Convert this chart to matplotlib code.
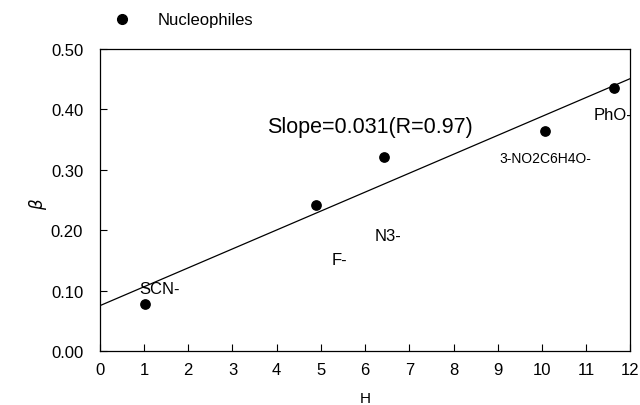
import numpy as np
import matplotlib.pyplot as plt

plt.rcParams['font.family'] = ['Liberation Sans', 'DejaVu Sans']

# data
h_values = [1.02, 4.89, 6.43, 10.07, 11.63]
beta_values = [0.078, 0.242, 0.321, 0.364, 0.435]
fit_x = [0, 12]
fit_y = [0.075, 0.451]

labels = ['SCN-', 'F-', 'N3-', '3-NO2C6H4O-', 'PhO-']
label_x = [1.36, 5.43, 6.52, 10.07, 11.6]
label_y = [0.104, 0.152, 0.192, 0.32, 0.392]
label_size = [12, 12, 12, 10, 12]

fig = plt.figure(figsize=(6.4, 4.06), dpi=100)
ax = fig.add_axes([0.156, 0.133, 0.829, 0.744])

ax.scatter(h_values, beta_values, color='black', s=45, zorder=3)
ax.plot(fit_x, fit_y, color='black', lw=0.9)

for t, x, y, s in zip(labels, label_x, label_y, label_size):
    ax.text(x, y, t, ha='center', va='center', fontsize=s)

ax.text(6.1, 0.372, 'Slope=0.031(R=0.97)', ha='center', va='center', fontsize=15.5)

ax.set_xlim(0, 12)
ax.set_ylim(0, 0.5)
ax.set_xticks(np.arange(0, 13, 1))
ax.set_yticks(np.arange(0, 0.51, 0.1))
ax.set_yticklabels(['%.2f' % v for v in np.arange(0, 0.51, 0.1)])
ax.tick_params(direction='in', length=5, labelsize=12, width=0.8)
ax.tick_params(axis='x', pad=8)
ax.tick_params(axis='y', pad=12)
for sp in ax.spines.values():
    sp.set_linewidth(0.9)

ax.set_xlabel('H', fontsize=11, labelpad=10)
ax.set_ylabel(r'$\beta$', fontsize=12)
ax.yaxis.set_label_coords(-0.095, 0.49)

# legend above plot
fig.lines.append(plt.Line2D([122 / 640], [1 - 20 / 406], marker='o', color='black',
                            markersize=7, transform=fig.transFigure))
fig.text(158 / 640, 1 - 20 / 406, 'Nucleophiles', va='center', fontsize=12)

plt.savefig('out.png', dpi=100)
